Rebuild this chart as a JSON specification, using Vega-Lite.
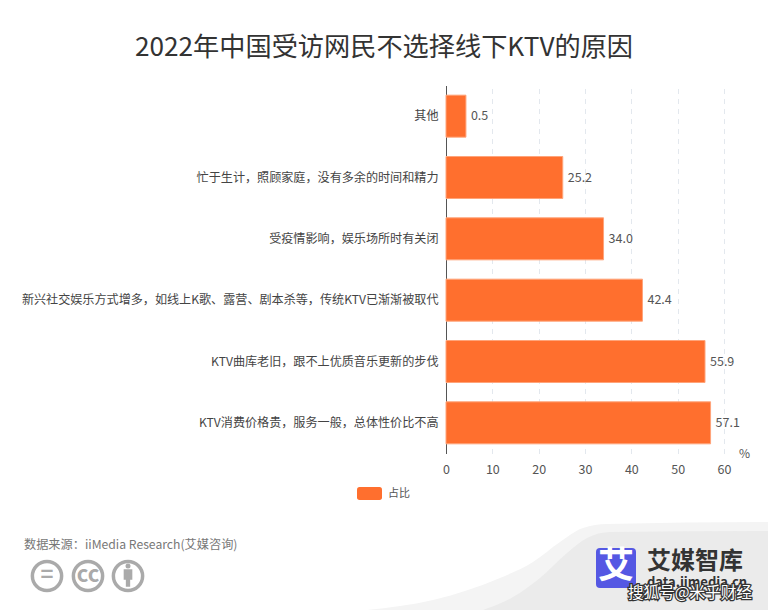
{"$schema":"https://vega.github.io/schema/vega-lite/v6.json","background":"white","width":278,"height":368,"padding":{"left":446,"top":85.5,"right":44,"bottom":156.5},"autosize":{"type":"none"},"title":{"text":"2022年中国受访网民不选择线下KTV的原因","font":"Noto Sans CJK SC","fontSize":26.2,"fontWeight":"normal","color":"#333333","anchor":"middle","dx":-201,"offset":24},"config":{"view":{"stroke":null},"font":"Noto Sans CJK SC"},"resolve":{"scale":{"x":"independent","y":"independent"}},"layer":[{"data":{"values":[{"reason":"其他","value":0.5,"drawn":4.3,"series":"占比"},{"reason":"忙于生计，照顾家庭，没有多余的时间和精力","value":25.2,"drawn":25.2,"series":"占比"},{"reason":"受疫情影响，娱乐场所时有关闭","value":34.0,"drawn":34.0,"series":"占比"},{"reason":"新兴社交娱乐方式增多，如线上K歌、露营、剧本杀等，传统KTV已渐渐被取代","value":42.4,"drawn":42.4,"series":"占比"},{"reason":"KTV曲库老旧，跟不上优质音乐更新的步伐","value":55.9,"drawn":55.9,"series":"占比"},{"reason":"KTV消费价格贵，服务一般，总体性价比不高","value":57.1,"drawn":57.1,"series":"占比"}]},"layer":[{"mark":{"type":"bar","height":42,"stroke":"#ffa47a","strokeWidth":1},"encoding":{"y":{"field":"reason","type":"nominal","sort":null,"title":null,"scale":{"paddingInner":0.3,"paddingOuter":0.15},"axis":{"domainColor":"#555555","domainWidth":1,"ticks":false,"grid":false,"labelFontSize":12.1,"labelColor":"#444444","labelLimit":500,"labelPadding":8,"labelFont":"Noto Sans CJK SC"}},"x":{"field":"drawn","type":"quantitative","title":"%","scale":{"domain":[0,60],"nice":false},"axis":{"values":[0,10,20,30,40,50,60],"domain":false,"ticks":false,"grid":true,"gridDash":[5,5],"gridColor":"#e3e8ee","labelFlush":false,"labelOverlap":false,"labelFontSize":12.5,"labelColor":"#555555","labelPadding":10,"titleFontSize":12,"titleFontWeight":"normal","titleColor":"#555555","titleX":298,"titleY":0,"titleBaseline":"middle"}},"color":{"field":"series","type":"nominal","scale":{"range":["#ff6f2e"]},"legend":{"title":null,"orient":"none","legendX":-89,"legendY":395.5,"symbolType":"M-1,-0.3Q-1,-0.52 -0.8,-0.52H0.8Q1,-0.52 1,-0.3V0.3Q1,0.52 0.8,0.52H-0.8Q-1,0.52 -1,0.3Z","symbolSize":625,"symbolStrokeWidth":0,"symbolOpacity":1,"labelFontSize":11,"labelColor":"#555555","labelOffset":6}}}},{"mark":{"type":"text","align":"left","baseline":"middle","dx":5,"fontSize":12.5,"color":"#555555"},"encoding":{"y":{"field":"reason","type":"nominal","sort":null},"x":{"field":"drawn","type":"quantitative"},"text":{"field":"value","type":"quantitative","format":".1f"}}}]},{"layer":[{"data":{"values":[{"x":367,"t":610},{"x":433,"t":600},{"x":500,"t":578},{"x":533,"t":562},{"x":560,"t":542},{"x":583,"t":528},{"x":607,"t":524},{"x":768,"t":522}]},"mark":{"type":"area","interpolate":"monotone","color":"#f4f4f4"},"encoding":{"x":{"field":"x","type":"quantitative","scale":{"domain":[446,724],"nice":false,"zero":false},"axis":null},"y":{"field":"t","type":"quantitative","scale":{"domain":[453.5,85.5],"nice":false,"zero":false},"axis":null},"y2":{"datum":610}}},{"data":{"values":[{"x":483,"t":610},{"x":513,"t":597},{"x":540,"t":578},{"x":567,"t":553},{"x":587,"t":538},{"x":610,"t":532},{"x":768,"t":531}]},"mark":{"type":"area","interpolate":"monotone","color":"#ebebeb"},"encoding":{"x":{"field":"x","type":"quantitative"},"y":{"field":"t","type":"quantitative"},"y2":{"datum":610}}},{"data":{"values":[{"x":24,"y":545,"t":"数据来源：iiMedia Research(艾媒咨询)"}]},"mark":{"type":"text","align":"left","fontSize":12.2,"color":"#777777"},"encoding":{"x":{"field":"x","type":"quantitative"},"y":{"field":"y","type":"quantitative"},"text":{"field":"t"}}},{"data":{"values":[{"x":47,"y":576},{"x":88,"y":576},{"x":128,"y":576}]},"mark":{"type":"point","size":855,"strokeWidth":3.5,"color":"#aaaaaa","filled":false,"opacity":1},"encoding":{"x":{"field":"x","type":"quantitative"},"y":{"field":"y","type":"quantitative"}}},{"data":{"values":[{"x":47,"y":575,"t":"="},{"x":88,"y":575,"t":"cc"}]},"mark":{"type":"text","fontSize":22,"fontWeight":"bold","color":"#aaaaaa","baseline":"middle"},"encoding":{"x":{"field":"x","type":"quantitative"},"y":{"field":"y","type":"quantitative"},"text":{"field":"t"}}},{"data":{"values":[{"x":128,"y":578}]},"mark":{"type":"point","shape":"M-0.5,-1H0.5V0.2H0.25V1H-0.25V0.2H-0.5Z","size":300,"filled":true,"color":"#aaaaaa","opacity":1},"encoding":{"x":{"field":"x","type":"quantitative"},"y":{"field":"y","type":"quantitative"}}},{"data":{"values":[{"x":128,"y":566}]},"mark":{"type":"point","size":25,"shape":"circle","filled":true,"color":"#aaaaaa","opacity":1},"encoding":{"x":{"field":"x","type":"quantitative"},"y":{"field":"y","type":"quantitative"}}},{"data":{"values":[{"x":616,"y":568}]},"mark":{"type":"point","shape":"M-1,-0.8Q-1,-1 -0.8,-1H0.8Q1,-1 1,-0.8V0.8Q1,1 0.8,1H-0.8Q-1,1 -1,0.8Z","size":1600,"filled":true,"color":"#5558e3","opacity":1},"encoding":{"x":{"field":"x","type":"quantitative"},"y":{"field":"y","type":"quantitative"}}},{"data":{"values":[{"x":616,"y":567,"t":"艾"}]},"mark":{"type":"text","fontSize":36,"fontWeight":"bold","color":"white","baseline":"middle"},"encoding":{"x":{"field":"x","type":"quantitative"},"y":{"field":"y","type":"quantitative"},"text":{"field":"t"}}},{"data":{"values":[{"x":647,"y":562,"t":"艾媒智库"}]},"mark":{"type":"text","align":"left","baseline":"middle","fontSize":24,"fontWeight":"bold","color":"#333333"},"encoding":{"x":{"field":"x","type":"quantitative"},"y":{"field":"y","type":"quantitative"},"text":{"field":"t"}}},{"data":{"values":[{"x":647,"y":583,"t":"data.iimedia.cn"}]},"mark":{"type":"text","align":"left","baseline":"middle","fontSize":13,"fontWeight":"bold","color":"#333333"},"encoding":{"x":{"field":"x","type":"quantitative"},"y":{"field":"y","type":"quantitative"},"text":{"field":"t"}}},{"data":{"values":[{"x":628,"y":593,"t":"搜狐号@米乎财经"}]},"mark":{"type":"text","align":"left","baseline":"middle","fontSize":15.6,"stroke":"#333333","strokeWidth":2.5,"color":"#333333"},"encoding":{"x":{"field":"x","type":"quantitative"},"y":{"field":"y","type":"quantitative"},"text":{"field":"t"}}},{"data":{"values":[{"x":628,"y":593,"t":"搜狐号@米乎财经"}]},"mark":{"type":"text","align":"left","baseline":"middle","fontSize":15.6,"color":"white"},"encoding":{"x":{"field":"x","type":"quantitative"},"y":{"field":"y","type":"quantitative"},"text":{"field":"t"}}}]}]}
